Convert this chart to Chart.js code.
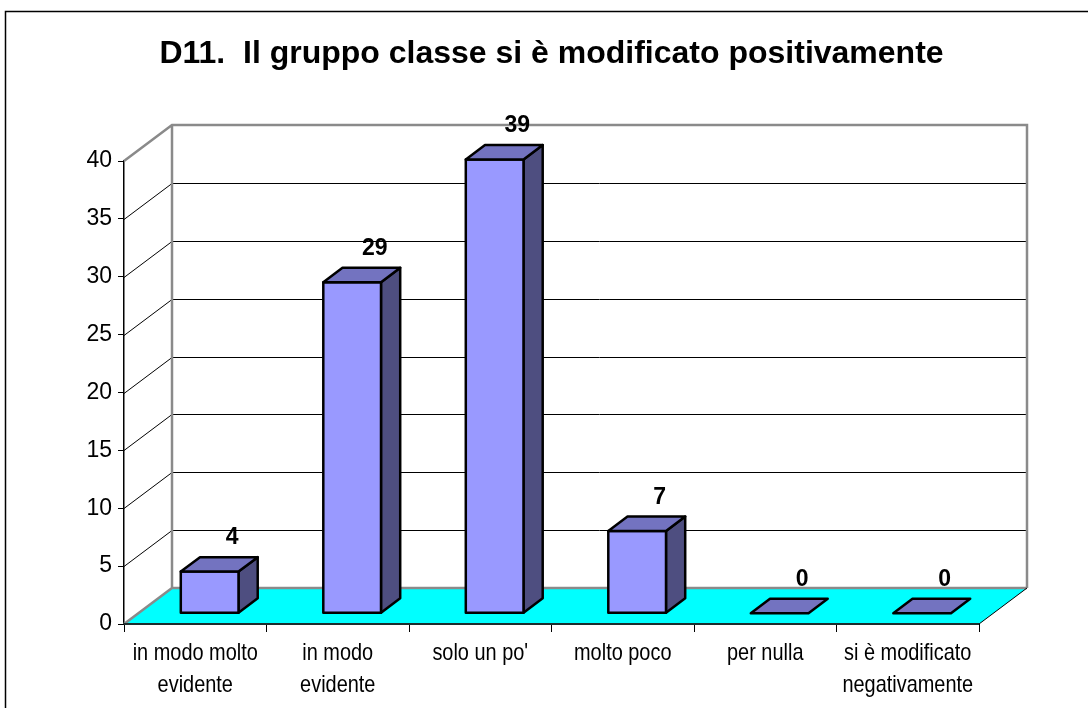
<!DOCTYPE html>
<html><head><meta charset="utf-8">
<script src="https://cdn.jsdelivr.net/npm/chart.js@4.4.1/dist/chart.umd.min.js"></script>
<style>html,body{margin:0;padding:0;background:#fff;overflow:hidden}canvas{display:block}</style>
</head><body>
<canvas id="c" width="1088" height="708"></canvas>
<script>
// ---- data ----
const titleText = 'D11.  Il gruppo classe si è modificato positivamente';
const categories = [['in modo molto', 'evidente'], ['in modo', 'evidente'], "solo un po'", 'molto poco', 'per nulla', ['si è modificato', 'negativamente']];
const values = [3.6, 28.6, 39.2, 7.1, 0, 0];
const yMin = 0, yMax = 40, yStep = 5;

// ---- 3D look ----
const DEPTH_X = 48, DEPTH_Y = -36;   // depth of the box (back wall offset)
const BAR_DEPTH = 0.4;               // fraction of depth used by a bar
const WALL_GRAY = '#8a8a8a';
const LABEL_FONT = '24px "Liberation Sans", Arial, sans-serif';
const LABEL_SQUEEZE = 0.83;          // narrow category text
const LABEL_LINE = 32;

const frame3d = {
  id: 'frame3d',
  beforeDraw(chart) {
    const ctx = chart.ctx;
    ctx.save();
    ctx.fillStyle = '#fff';
    ctx.fillRect(0, 0, chart.width, chart.height);
    ctx.strokeStyle = '#000';
    ctx.lineWidth = 1.5;
    ctx.strokeRect(5.5, 11.5, chart.width + 40, chart.height + 40);
    ctx.restore();
  },
  beforeDatasetsDraw(chart) {
    const { ctx, chartArea: a, scales: { y } } = chart;
    const L = a.left, R = a.right, T = a.top, B = a.bottom;
    const dx = DEPTH_X, dy = DEPTH_Y;
    ctx.save();
    // floor
    ctx.fillStyle = '#00FFFF';
    ctx.beginPath();
    ctx.moveTo(L, B); ctx.lineTo(R, B); ctx.lineTo(R + dx, B + dy); ctx.lineTo(L + dx, B + dy);
    ctx.closePath(); ctx.fill();
    // grid lines on left and back walls
    ctx.strokeStyle = '#000';
    ctx.lineWidth = 1;
    y.ticks.forEach(t => {
      if (t.value <= y.min || t.value >= y.max) return;
      const py = Math.round(y.getPixelForValue(t.value)) + 0.5;
      ctx.beginPath();
      ctx.moveTo(L, py); ctx.lineTo(L + dx, py + dy); ctx.lineTo(R + dx, py + dy);
      ctx.stroke();
    });
    // wall edges (gray)
    ctx.strokeStyle = WALL_GRAY;
    ctx.lineWidth = 2.5;
    ctx.beginPath();
    ctx.moveTo(L, T); ctx.lineTo(L + dx, T + dy); ctx.lineTo(R + dx, T + dy); ctx.lineTo(R + dx, B + dy);
    ctx.moveTo(L + dx, T + dy); ctx.lineTo(L + dx, B + dy); ctx.lineTo(R + dx, B + dy);
    ctx.moveTo(L, B); ctx.lineTo(L + dx, B + dy);
    ctx.stroke();
    // floor right edge
    ctx.strokeStyle = '#000';
    ctx.lineWidth = 1;
    ctx.beginPath(); ctx.moveTo(R, B); ctx.lineTo(R + dx, B + dy); ctx.stroke();
    // floor front edge
    ctx.strokeStyle = '#1c2e2e';
    ctx.lineWidth = 2;
    ctx.beginPath(); ctx.moveTo(L, B); ctx.lineTo(R, B); ctx.stroke();
    ctx.restore();
  },
  afterDatasetsDraw(chart) {
    const ctx = chart.ctx;
    const meta = chart.getDatasetMeta(0);
    const fx = DEPTH_X * (1 - BAR_DEPTH) / 2, fy = DEPTH_Y * (1 - BAR_DEPTH) / 2;
    const bx = DEPTH_X * BAR_DEPTH, by = DEPTH_Y * BAR_DEPTH;
    ctx.save();
    ctx.lineWidth = 2.5;
    ctx.lineJoin = 'round';
    ctx.strokeStyle = '#000';
    meta.data.forEach((bar, i) => {
      const p = bar.getProps(['x', 'y', 'base', 'width'], true);
      const x0 = p.x - p.width / 2 + fx, x1 = p.x + p.width / 2 + fx;
      const yt = p.y + fy, yb = p.base + fy;
      const poly = (pts, fill) => {
        ctx.beginPath();
        ctx.moveTo(pts[0][0], pts[0][1]);
        for (let k = 1; k < pts.length; k++) ctx.lineTo(pts[k][0], pts[k][1]);
        ctx.closePath();
        ctx.fillStyle = fill; ctx.fill(); ctx.stroke();
      };
      if (yb - yt > 0.5) {
        poly([[x1, yt], [x1 + bx, yt + by], [x1 + bx, yb + by], [x1, yb]], '#4E4E80');
        poly([[x0, yt], [x1, yt], [x1, yb], [x0, yb]], '#9999FF');
      }
      poly([[x0, yt], [x0 + bx, yt + by], [x1 + bx, yt + by], [x1, yt]], '#7373C0');
      // value label
      ctx.save();
      ctx.fillStyle = '#000';
      ctx.font = 'bold 23px "Liberation Sans", Arial, sans-serif';
      ctx.textAlign = 'center';
      ctx.textBaseline = 'middle';
      ctx.fillText(String(Math.round(values[i])), p.x + 37, yt + by - 19);
      ctx.restore();
    });
    ctx.restore();
  },
  afterDraw(chart) {
    // category labels (narrow face like the original)
    const { ctx, scales: { x }, chartArea: a } = chart;
    ctx.save();
    ctx.fillStyle = '#000';
    ctx.font = LABEL_FONT;
    ctx.textAlign = 'center';
    ctx.textBaseline = 'middle';
    chart.data.labels.forEach((lab, i) => {
      const cx = x.getPixelForTick(i);
      const lines = Array.isArray(lab) ? lab : [lab];
      lines.forEach((line, j) => {
        ctx.save();
        ctx.translate(cx, a.bottom + 29 + j * LABEL_LINE);
        ctx.scale(LABEL_SQUEEZE, 1);
        ctx.fillText(line, 0, 0);
        ctx.restore();
      });
    });
    ctx.restore();
  }
};

Chart.defaults.font.family = '"Liberation Sans", Arial, sans-serif';
Chart.defaults.color = '#000';

new Chart(document.getElementById('c'), {
  type: 'bar',
  data: {
    labels: categories,
    datasets: [{
      data: values,
      backgroundColor: 'rgba(0,0,0,0)',
      borderWidth: 0,
      categoryPercentage: 1,
      barPercentage: 0.405
    }]
  },
  options: {
    responsive: false,
    devicePixelRatio: 1,
    animation: false,
    events: [],
    layout: { padding: { left: 0, right: 109, top: 0, bottom: 0 } },
    plugins: {
      legend: { display: false },
      tooltip: { enabled: false },
      title: {
        display: true,
        text: titleText,
        fullSize: false,
        color: '#000',
        font: { size: 32, weight: 'bold', lineHeight: 1.2 },
        padding: { top: 35, bottom: 87.6 }
      }
    },
    scales: {
      x: {
        offset: true,
        grid: { offset: true, drawOnChartArea: false, drawTicks: true, tickLength: 8, color: '#000', lineWidth: 1 },
        border: { display: false },
        ticks: { display: false, autoSkip: false, maxRotation: 0, minRotation: 0 },
        afterFit(s) { s.height = 84; }
      },
      y: {
        min: yMin, max: yMax,
        grid: { drawOnChartArea: false, drawTicks: true, tickLength: 6, color: '#000', lineWidth: 1 },
        border: { display: true, color: '#000', width: 1.5 },
        ticks: { stepSize: yStep, padding: 6, color: '#000', font: { size: 23 } },
        afterFit(s) { s.width = 124; }
      }
    }
  },
  plugins: [frame3d]
});
</script>
</body></html>
